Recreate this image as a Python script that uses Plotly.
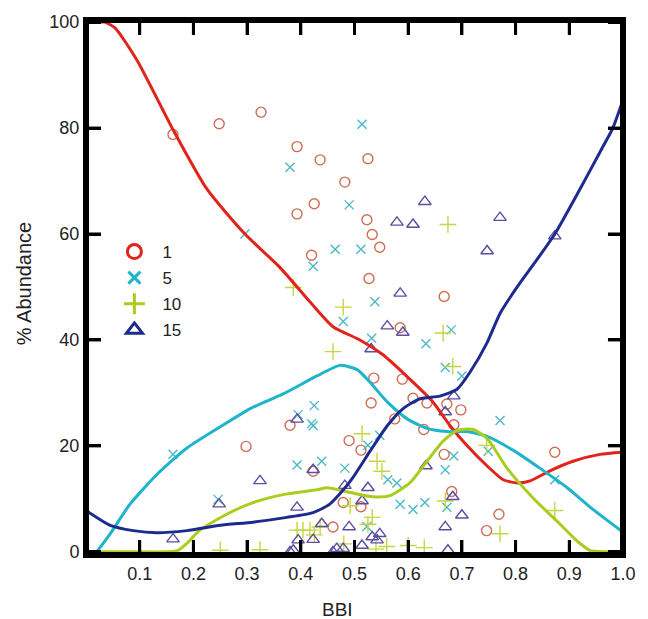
import plotly.graph_objects as go

# ---- sample points: (BBI, % abundance) for each size class ----
circ_x = [0.162, 0.248, 0.326, 0.393, 0.436, 0.393, 0.425, 0.420, 0.525, 0.482,
          0.523, 0.533, 0.547, 0.527, 0.667, 0.585, 0.536, 0.589, 0.531, 0.609,
          0.635, 0.672, 0.698, 0.575, 0.629, 0.685, 0.490, 0.512, 0.667, 0.873,
          0.681, 0.479, 0.512, 0.769, 0.460, 0.746, 0.298, 0.380, 0.423]
circ_y = [78.8, 80.8, 83.0, 76.5, 74.0, 63.8, 65.7, 56.0, 74.2, 69.8,
          62.7, 59.9, 57.5, 51.6, 48.2, 42.3, 32.8, 32.6, 28.1, 29.0,
          28.1, 27.9, 26.8, 25.1, 23.1, 24.0, 21.0, 19.2, 18.4, 18.8,
          11.4, 9.3, 8.5, 7.1, 4.7, 4.0, 19.9, 23.9, 15.2]

xmk_x = [0.380, 0.296, 0.423, 0.514, 0.490, 0.464, 0.512, 0.538, 0.479, 0.680,
         0.633, 0.532, 0.669, 0.700, 0.425, 0.420, 0.395, 0.547, 0.525, 0.685,
         0.749, 0.771, 0.439, 0.393, 0.482, 0.562, 0.579, 0.669, 0.585, 0.609,
         0.631, 0.672, 0.873, 0.523, 0.162, 0.246, 0.423]
xmk_y = [72.6, 60.0, 53.9, 80.7, 65.5, 57.1, 57.1, 47.2, 43.5, 41.9,
         39.3, 40.3, 34.8, 33.2, 27.6, 24.2, 25.9, 22.0, 20.1, 18.1,
         19.0, 24.8, 17.1, 16.4, 15.8, 13.6, 13.0, 15.5, 9.0, 8.0,
         9.3, 8.4, 13.6, 4.8, 18.4, 9.9, 23.8]

plus_x = [0.386, 0.479, 0.674, 0.665, 0.460, 0.683, 0.514, 0.542, 0.551, 0.746,
          0.873, 0.771, 0.669, 0.525, 0.492, 0.436, 0.425, 0.404, 0.393, 0.417,
          0.324, 0.250, 0.533, 0.560, 0.600, 0.630, 0.540, 0.480]
plus_y = [49.9, 46.2, 61.8, 41.3, 37.8, 35.0, 22.3, 17.1, 15.2, 20.1,
          7.8, 3.4, 9.6, 5.2, 8.7, 4.7, 3.2, 4.1, 4.1, 4.1,
          0.4, 0.3, 6.5, 1.0, 1.2, 0.8, 0.5, 1.5]

tri_x = [0.631, 0.579, 0.609, 0.771, 0.747, 0.873, 0.585, 0.561, 0.590, 0.531,
         0.685, 0.669, 0.393, 0.423, 0.633, 0.482, 0.525, 0.514, 0.683, 0.700,
         0.439, 0.490, 0.669, 0.423, 0.533, 0.547, 0.460, 0.514, 0.674, 0.324,
         0.393, 0.162, 0.248, 0.395, 0.380, 0.386, 0.467, 0.479, 0.542]
tri_y = [66.1, 62.2, 61.8, 63.1, 56.8, 59.6, 48.8, 42.6, 41.4, 38.3,
         29.4, 26.4, 25.0, 15.5, 16.2, 12.5, 12.1, 9.6, 10.4, 6.9,
         5.3, 4.7, 4.7, 2.3, 2.8, 3.4, 0.0, 1.2, 0.3, 13.4,
         8.4, 2.4, 9.0, 2.2, 0.0, 0.3, 0.6, 0.6, 2.2]

# ---- smoothed trend curves ----
red_x = [0, 0.02, 0.035, 0.054, 0.095, 0.162, 0.225, 0.296, 0.361, 0.417,
         0.460, 0.510, 0.553, 0.603, 0.646, 0.678, 0.709, 0.747, 0.777, 0.803,
         0.827, 0.864, 0.907, 0.957, 1.0]
red_y = [100, 100, 100, 98.9, 92.8, 79.7, 68.5, 60.0, 53.7, 47.2,
         42.5, 40.0, 37.2, 32.6, 28.3, 23.8, 20.1, 16.2, 13.6, 13.0,
         13.4, 15.3, 17.1, 18.4, 18.8]

cyan_x = [0.02, 0.045, 0.082, 0.132, 0.188, 0.250, 0.305, 0.367, 0.430, 0.473,
          0.505, 0.529, 0.561, 0.598, 0.635, 0.672, 0.709, 0.747, 0.795, 0.845,
          0.896, 0.944, 1.0]
cyan_y = [0, 3.4, 9.0, 14.6, 19.6, 23.6, 27.0, 29.8, 33.2, 35.2,
          34.4, 32.0, 28.3, 25.1, 23.3, 22.7, 22.7, 21.8, 19.2, 15.8,
          12.1, 8.0, 3.7]

green_x = [0, 0.08, 0.15, 0.17, 0.19, 0.212, 0.262, 0.311, 0.367, 0.430,
           0.449, 0.492, 0.534, 0.566, 0.603, 0.635, 0.665, 0.691, 0.721, 0.747,
           0.784, 0.832, 0.883, 0.915, 0.94, 0.97, 1.0]
green_y = [0, 0, 0, 0.2, 1.8, 4.1, 7.1, 9.3, 10.8, 11.7,
           12.1, 11.2, 10.4, 10.6, 13.0, 17.1, 20.9, 22.9, 23.1, 21.4,
           15.8, 10.2, 5.2, 2.0, 0.2, 0, 0]

navy_x = [0, 0.045, 0.088, 0.132, 0.188, 0.250, 0.311, 0.374, 0.423, 0.454,
          0.480, 0.497, 0.529, 0.561, 0.590, 0.622, 0.659, 0.691, 0.715, 0.747,
          0.771, 0.803, 0.840, 0.873, 0.920, 0.960, 0.981, 1.0]
navy_y = [7.8, 5.0, 4.0, 3.6, 4.0, 5.0, 5.6, 6.5, 7.4, 9.0,
          11.8, 14.0, 19.0, 23.8, 27.0, 28.9, 29.4, 30.7, 33.9, 39.5,
          45.0, 50.0, 55.2, 60.0, 68.5, 76.0, 80.0, 85.3]

labels = ["1", "5", "10", "15"]
x_ticks = [0.1, 0.2, 0.3, 0.4, 0.5, 0.6, 0.7, 0.8, 0.9, 1.0]
y_ticks = [0, 20, 40, 60, 80, 100]

FONT = "Liberation Sans, Arial, sans-serif"
INK = "#222222"
X_RANGE = [0, 1.0]
Y_RANGE = [-0.6, 100.4]
TICK_X = 0.028 * (X_RANGE[1] - X_RANGE[0])   # inward tick length along x
TICK_Y = 0.028 * (Y_RANGE[1] - Y_RANGE[0])   # inward tick length along y

fig = go.Figure()

# scattered samples (faded)
point_sets = [
    (circ_x, circ_y, "circle-open", "#cd6e55", 10),
    (xmk_x, xmk_y, "x-thin-open", "#4cb8c8", 9),
    (plus_x, plus_y, "cross-thin-open", "#c6d640", 12),
    (tri_x, tri_y, "triangle-up-open", "#5b4f9e", 11),
]
for px, py, sym, col, sz in point_sets:
    fig.add_trace(go.Scatter(
        x=px, y=py, mode="markers", showlegend=False, hoverinfo="skip",
        marker=dict(symbol=sym, size=sz, color=col, line=dict(color=col, width=1.4)),
    ))

# trend curves
for cx, cy, col in [(red_x, red_y, "#e2231a"), (cyan_x, cyan_y, "#1eb4c9"),
                    (green_x, green_y, "#a9cd1e"), (navy_x, navy_y, "#1d2a8e")]:
    fig.add_trace(go.Scatter(
        x=cx, y=cy, mode="lines", showlegend=False, hoverinfo="skip",
        line=dict(color=col, width=3, shape="spline", smoothing=0.6),
    ))

# box frame drawn along the axis limits
x0, x1 = X_RANGE
y0, y1 = Y_RANGE
fig.add_trace(go.Scatter(
    x=[x0, x1, x1, x0, x0], y=[y0, y0, y1, y1, y0], mode="lines",
    showlegend=False, hoverinfo="skip", line=dict(color="#000000", width=6),
))

# inward tick marks on all four sides
tx, ty = [], []
for v in x_ticks:
    tx += [v, v, None, v, v, None]
    ty += [y0, y0 + TICK_Y, None, y1, y1 - TICK_Y, None]
for v in y_ticks:
    tx += [x0, x0 + TICK_X, None, x1, x1 - TICK_X, None]
    ty += [v, v, None, v, v, None]
fig.add_trace(go.Scatter(
    x=tx, y=ty, mode="lines", showlegend=False, hoverinfo="skip",
    line=dict(color="#000000", width=3),
))

# legend keys
legend_styles = [("circle-open", "#e2231a", 14), ("x-thin-open", "#1eb4c9", 12),
                 ("cross-thin-open", "#a9cd1e", 15), ("triangle-up-open", "#1d2a8e", 14)]
for lab, (sym, col, sz) in zip(labels, legend_styles):
    fig.add_trace(go.Scatter(
        x=[None], y=[None], mode="markers", name=lab, legendgroup=lab,
        marker=dict(symbol=sym, size=sz, color=col, line=dict(color=col, width=3)),
    ))

fig.update_xaxes(
    range=X_RANGE, tickvals=x_ticks, tickformat=".1f",
    showline=True, linecolor="#000000", linewidth=3, mirror="ticks",
    ticks="inside", ticklen=15, tickwidth=3, tickcolor="#000000",
    tickfont=dict(family=FONT, size=18, color=INK),
)
fig.update_yaxes(
    range=Y_RANGE, tickvals=y_ticks,
    showline=True, linecolor="#000000", linewidth=3, mirror="ticks",
    ticks="inside", ticklen=15, tickwidth=3, tickcolor="#000000",
    tickfont=dict(family=FONT, size=18, color=INK),
)

fig.update_layout(
    width=648, height=619,
    margin=dict(l=86, r=25, t=18, b=64),
    paper_bgcolor="white", plot_bgcolor="white",
    font=dict(family=FONT, color=INK),
    legend=dict(x=0.038, y=0.6, xanchor="left", yanchor="top",
                bgcolor="rgba(0,0,0,0)", font=dict(family=FONT, size=17, color=INK),
                tracegroupgap=1, itemwidth=46),
    annotations=[
        dict(text="BBI", xref="paper", yref="paper", x=0.469, y=-0.102,
             xanchor="center", yanchor="middle", showarrow=False,
             font=dict(family=FONT, size=19, color=INK)),
        dict(text="% Abundance", xref="paper", yref="paper", x=-0.1155, y=0.508,
             xanchor="center", yanchor="middle", showarrow=False, textangle=-90,
             font=dict(family=FONT, size=20, color=INK)),
    ],
)

fig.write_html("out.html")
